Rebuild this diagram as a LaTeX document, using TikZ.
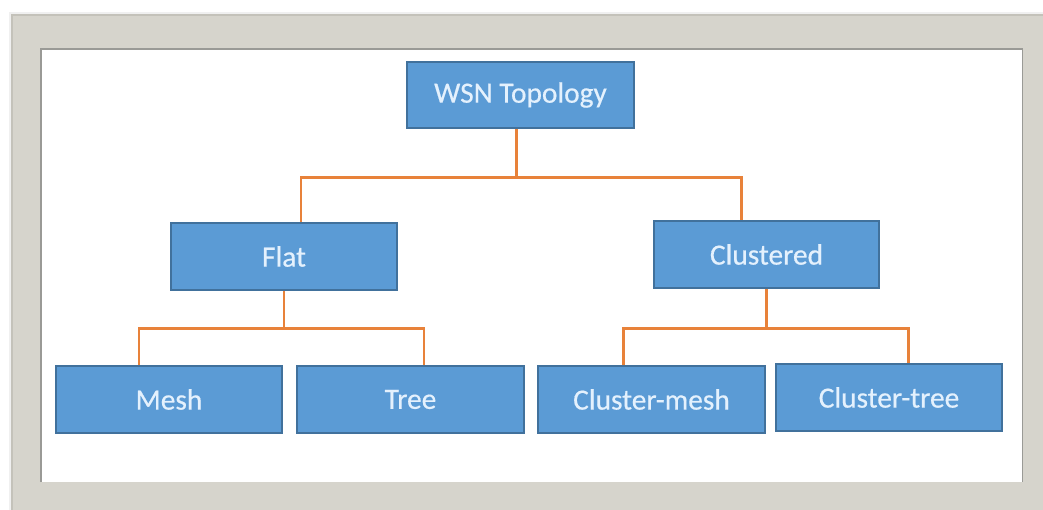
\documentclass[tikz,border=0pt]{standalone}
\usepackage{fontspec}
\setmainfont{Carlito}
\newfontfamily\boxfont[FakeBold=0.5]{Carlito}
\definecolor{framegray}{HTML}{D6D4CC}
\definecolor{frameedge}{HTML}{C4C2BA}
\definecolor{innerline}{HTML}{9A9A96}
\definecolor{boxfill}{HTML}{5B9BD5}
\definecolor{boxline}{HTML}{41719C}
\definecolor{connorange}{HTML}{E8823A}
\definecolor{boxtext}{HTML}{E4F1FD}
\tikzset{
  topbox/.style={draw=boxline, line width=1.2pt, fill=boxfill, text=boxtext,
    minimum width=226bp, minimum height=67bp, inner sep=0pt,
    font=\boxfont\fontsize{29.5}{33}\selectfont},
  conn/.style={draw=connorange, line width=3pt, line cap=butt, line join=miter}
}
\begin{document}
\begin{tikzpicture}[x=1bp,y=-1bp]
\useasboundingbox (0,0) rectangle (1043,510);
\fill[white] (0,0) rectangle (1043,510);
% frame
\fill[gray!12] (9,12) rectangle (1043,510);
\fill[framegray] (12,15) rectangle (1043,510);
\draw[frameedge, line width=1.5pt] (12,510) -- (12,15) -- (1043,15);
\fill[white] (40,48) rectangle (1023,482);
\draw[innerline, line width=1.2pt] (41,482) -- (41,49) -- (1023,49);
\draw[innerline, line width=1.2pt] (1022.5,49) -- (1022.5,482);
% nodes
\node[topbox, minimum width=227bp, minimum height=66bp] (wsn) at (520.5,95) {WSN Topology};
\node[topbox] (flat) at (284,256.5) {Flat};
\node[topbox, minimum width=225bp] (clustered) at (766.5,254.5) {Clustered};
\node[topbox] (mesh) at (169,399.5) {Mesh};
\node[topbox, minimum width=227bp] (tree) at (410.5,399.5) {Tree};
\node[topbox, minimum width=227bp] (cmesh) at (651.5,399.5) {Cluster-mesh};
\node[topbox] (ctree) at (889,397.5) {Cluster-tree};
% connectors
\draw[conn] ([xshift=-4.5bp]wsn.south) -- ++(0,49) coordinate (j1);
\draw[conn] ([xshift=17bp]flat.north) |- (j1) -| ([xshift=-25.5bp]clustered.north);
\draw[conn] (flat.south) -- ++(0,37.5) coordinate (j2);
\draw[conn] ([xshift=-30bp]mesh.north) |- (j2) -| ([xshift=13.5bp]tree.north);
\draw[conn] (clustered.south) -- ++(0,39.5) coordinate (j3);
\draw[conn] ([xshift=-28.5bp]cmesh.north) |- (j3) -| ([xshift=19bp]ctree.north);
\end{tikzpicture}
\end{document}
